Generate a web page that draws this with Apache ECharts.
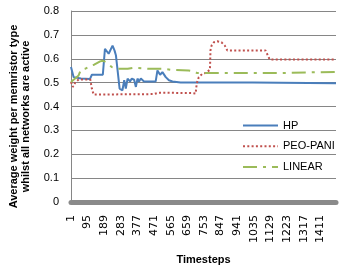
<!DOCTYPE html>
<html><head><meta charset="utf-8">
<script src="https://cdn.jsdelivr.net/npm/echarts@6/dist/echarts.min.js"></script>
<style>html,body{margin:0;padding:0;background:#fff}#c{width:343px;height:276px}</style>
</head><body><div id="c"></div>
<script>
const seriesNames = ['HP', 'PEO-PANI', 'LINEAR'];
const xTickLabels = ['1','95','189','283','377','471','565','659','753','847','941','1035','1129','1223','1317','1411'];
const xTickStep = 94;
const totalSteps = 1500;
const yTicks = [0, 0.1, 0.2, 0.3, 0.4, 0.5, 0.6, 0.7, 0.8];

const hpSteps  = [1,16,57,108,119,181,193,214,236,247,255,276,292,302,311,321,335,345,358,368,377,386,396,405,414,480,490,505,518,537,555,575,621,1030,1036,1500];
const hpValues = [0.565,0.523,0.517,0.515,0.533,0.533,0.642,0.621,0.655,0.635,0.615,0.475,0.468,0.51,0.475,0.517,0.505,0.517,0.512,0.482,0.517,0.505,0.517,0.51,0.505,0.505,0.551,0.533,0.544,0.523,0.51,0.505,0.501,0.501,0.497,0.497];

const peoSteps  = [1,12,25,44,110,115,119,129,469,497,689,706,710,715,724,744,762,787,790,796,809,828,852,871,885,1101,1125,1500];
const peoValues = [0.503,0.482,0.50,0.513,0.513,0.505,0.475,0.45,0.452,0.458,0.456,0.454,0.482,0.503,0.523,0.537,0.54,0.554,0.635,0.655,0.669,0.673,0.669,0.655,0.635,0.635,0.597,0.597];

const linSteps  = [1,44,57,80,119,132,166,181,198,232,260,322,356,441,525,565,666,689,715,1168,1174,1500];
const linValues = [0.503,0.53,0.554,0.558,0.572,0.575,0.589,0.592,0.586,0.565,0.558,0.558,0.562,0.558,0.558,0.554,0.551,0.548,0.54,0.54,0.545,0.545];

function pairs(steps, values) { return steps.map((t, i) => [t - 1, values[i]]); }

const chart = echarts.init(document.getElementById('c'), null, {renderer: 'canvas'});
const lab = {fontFamily: 'Liberation Sans', fontSize: 11, color: '#000'};
chart.setOption({
  animation: false,
  backgroundColor: '#fff',
  grid: {left: 70, right: 7, top: 11, bottom: 74, containLabel: false},
  xAxis: {
    type: 'value', min: 0, max: totalSteps - 1, interval: xTickStep,
    name: 'Timesteps', nameLocation: 'middle', nameGap: 52,
    nameTextStyle: {fontFamily: 'Liberation Sans', fontWeight: 'bold', fontSize: 11, color: '#000'},
    axisLine: {show: true, lineStyle: {color: '#8a8a8a', width: 5}},
    axisTick: {show: false},
    splitLine: {show: false},
    axisLabel: {
      rotate: 90, margin: 13, fontFamily: 'DejaVu Sans', fontSize: 11, color: '#000',
      showMaxLabel: false,
      formatter: v => (v % xTickStep === 0 && xTickLabels[v / xTickStep] !== undefined) ? xTickLabels[v / xTickStep] : ''
    }
  },
  yAxis: {
    type: 'value', min: yTicks[0], max: yTicks[yTicks.length - 1], interval: 0.1,
    name: 'Average weight per memristor type\nwhilst all networks are active',
    nameLocation: 'middle', nameRotate: 90, nameGap: 39,
    nameTextStyle: {fontFamily: 'Liberation Sans', fontWeight: 'bold', fontSize: 11, color: '#000', lineHeight: 12, padding: [0, 20, 0, 0]},
    axisLine: {show: true, lineStyle: {color: '#868686', width: 1}},
    axisTick: {show: false},
    splitLine: {show: true, lineStyle: {color: '#868686', width: 1}},
    axisLabel: Object.assign({margin: 12, formatter: v => v === 0 ? '0' : v.toFixed(1)}, lab)
  },
  legend: {
    orient: 'vertical', left: 237, top: 115, itemWidth: 35, itemHeight: 14, itemGap: 9.5,
    textStyle: lab,
    itemStyle: {opacity: 0},
    data: seriesNames
  },
  series: [
    {name: seriesNames[0], type: 'line', data: pairs(hpSteps, hpValues), showSymbol: false, symbol: 'none',
     lineStyle: {color: '#4A7EBB', width: 2}, itemStyle: {color: '#4A7EBB'}},
    {name: seriesNames[1], type: 'line', data: pairs(peoSteps, peoValues), showSymbol: false, symbol: 'none',
     lineStyle: {color: '#C0504D', width: 2, type: [2, 2.3]}, itemStyle: {color: '#C0504D'}},
    {name: seriesNames[2], type: 'line', data: pairs(linSteps, linValues), showSymbol: false, symbol: 'none',
     lineStyle: {color: '#9BBB59', width: 2, type: [14, 6, 3, 6]}, itemStyle: {color: '#9BBB59'}}
  ]
});
</script></body></html>
